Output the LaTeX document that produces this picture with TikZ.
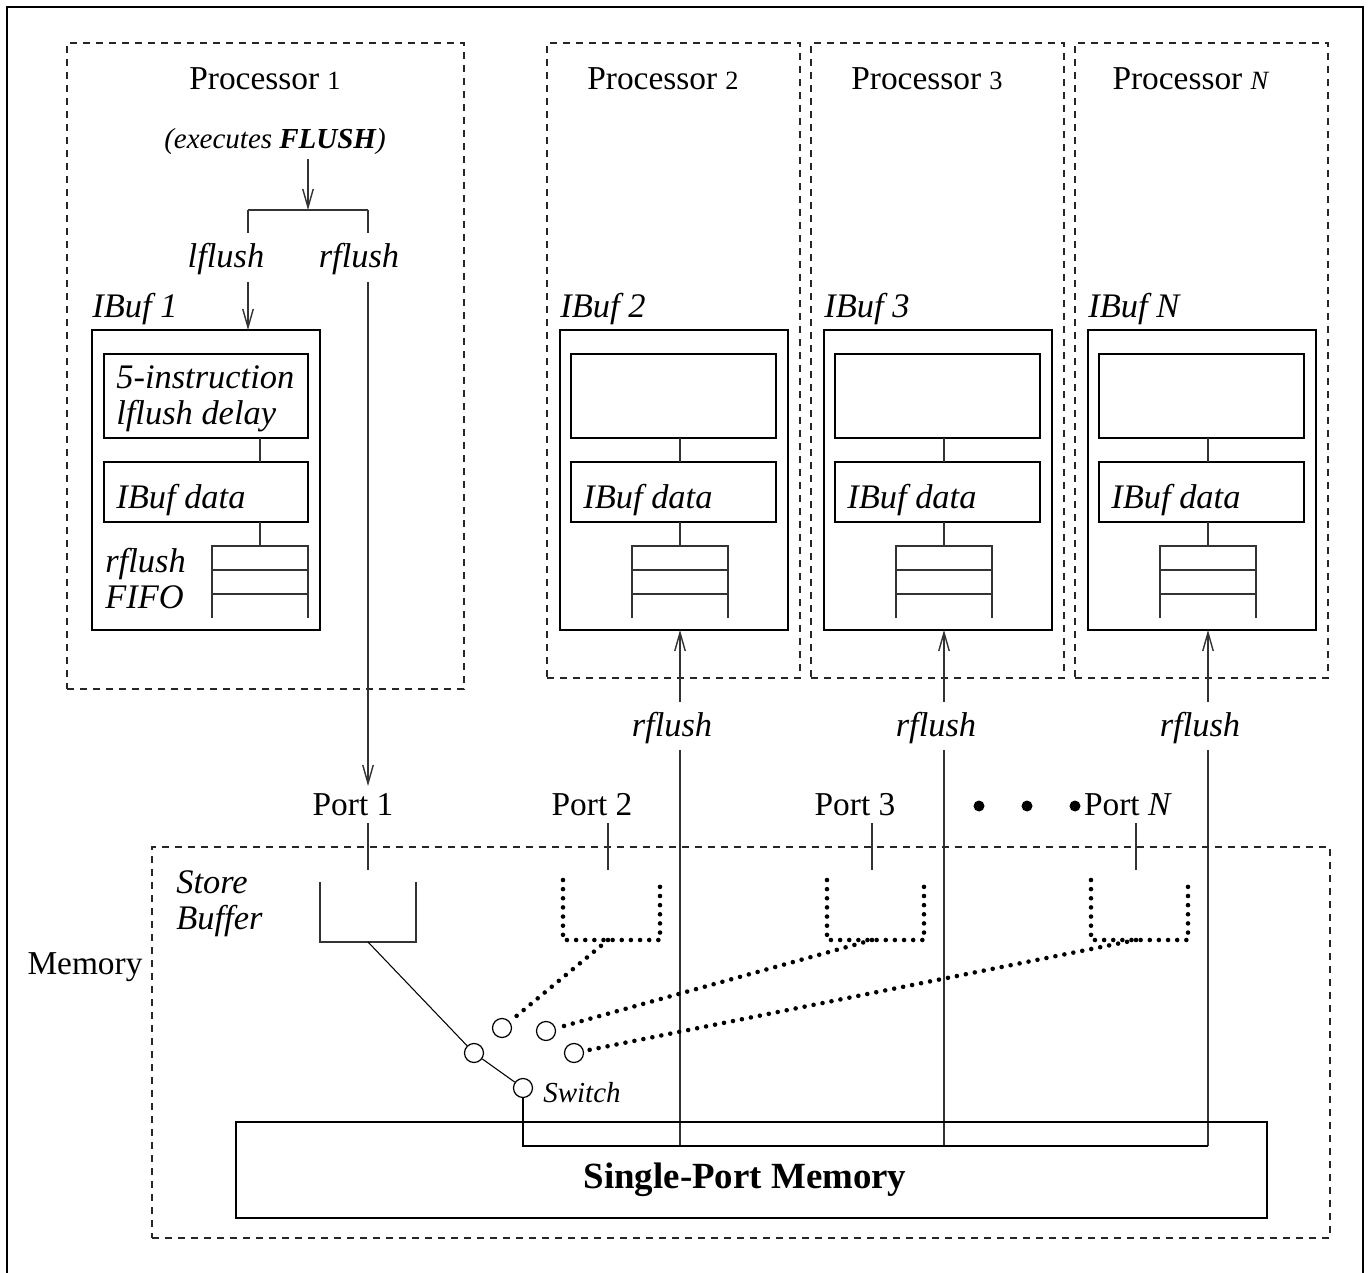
\documentclass[tikz,border=0pt]{standalone}
\usepackage{fontspec}
\setmainfont{Liberation Serif}
\usetikzlibrary{arrows.meta,fit}
\begin{document}
\begin{tikzpicture}[x=0.02cm,y=-0.02cm,
  ln/.style={line width=0.8pt, draw=black!80},
  thn/.style={line width=0.6pt, draw=black},
  dsh/.style={draw=black!85, line width=0.7pt, dash pattern=on 4pt off 3.4pt},
  dts/.style={draw=black, line width=2.6pt, dash pattern=on 0pt off 5.2pt, line cap=round},
  arr/.style={-{Straight Barb[length=10.5pt,width=6pt]}},
  bx/.style={draw=black, line width=0.7pt, inner sep=0pt, outer sep=0pt},
  fr/.style={dsh, inner sep=0pt, outer sep=0pt},
  txt/.style={inner sep=0pt, font=\fontsize{19}{20}\selectfont},
  itx/.style={inner sep=0pt, font=\fontsize{19.6}{20.5}\selectfont\itshape},
  lbl/.style={itx, minimum height=0.96cm},
  prt/.style={txt, minimum height=0.76cm},
  sw/.style={draw=black, line width=0.7pt, circle, minimum size=0.38cm, inner sep=0pt}]
\useasboundingbox (0,0) rectangle (1369,1273);
% outer frame
\draw[thn] (7,1273) -- (7,7) -- (1363,7) -- (1363,1273);

% ---------------- Processor 1 ----------------
\node[fr, fit={(67,43) (464,689)}] (p1) {};
\node[txt] (t1) at (265,79) {Processor {\fontsize{15}{18}\selectfont 1}};
\node[inner sep=2pt, font=\fontsize{16.5}{20}\selectfont\itshape] (ex) at (275,142) {(executes \textbf{FLUSH})};
\coordinate (br) at (308,210);
\coordinate (bl) at (248,210);
\coordinate (brr) at (368,210);
\draw[ln,arr] (ex.south -| br) -- (br);
\draw[ln] (bl) -- (brr);
\node[lbl] (lf) at (226,259) {lflush};
\node[lbl] (rf1) at (359,259) {rflush};
\draw[ln] (bl) -- (248,233);
\draw[ln] (brr) -- (368,233);
\node[itx, anchor=west] (ibl1) at (92,309) {IBuf 1};
\node[bx, fit={(92,330) (320,630)}] (ib1) {};
\draw[ln,arr] (248,282) -- (ib1.north -| bl);
\node[bx, fit={(104,354) (308,438)}] (d1) {};
\node[itx, anchor=west, align=left] (d1t) at (116,399) {5-instruction\\lflush delay};
\node[bx, fit={(104,462) (308,522)}] (da1) {};
\node[itx, anchor=west] (da1t) at (116,500) {IBuf data};
\coordinate (v1) at (260,0);
\draw[ln] (d1.south -| v1) -- (da1.north -| v1);
\draw[ln] (da1.south -| v1) -- (260,546);
\draw[ln] (212,618) -- (212,546) -- (308,546) -- (308,618);
\draw[ln] (212,570) -- (308,570);
\draw[ln] (212,594) -- (308,594);
\node[itx, anchor=west, align=left] (ff1) at (105,579) {rflush\\FIFO};

% ---------------- Processors 2, 3, N ----------------
\foreach \n/\d/\lab in {2/0/2, 3/264/3, N/528/\textit{N}} {
  \node[fr, fit={(547+\d,43) (800+\d,678)}] (p\n) {};
  \node[txt] (t\n) at (663+\d,79) {Processor {\fontsize{15}{18}\selectfont \lab}};
  \node[itx, anchor=west] (ibl\n) at (560+\d,309) {IBuf \n};
  \node[bx, fit={(560+\d,330) (788+\d,630)}] (ib\n) {};
  \node[bx, fit={(571+\d,354) (776+\d,438)}] (d\n) {};
  \node[bx, fit={(571+\d,462) (776+\d,522)}] (da\n) {};
  \node[itx, anchor=west] (da\n t) at (583+\d,500) {IBuf data};
  \coordinate (v\n) at (680+\d,1146);
  \draw[ln] (d\n.south -| v\n) -- (da\n.north -| v\n);
  \draw[ln] (da\n.south -| v\n) -- (680+\d,546);
  \draw[ln] (632+\d,618) -- (632+\d,546) -- (728+\d,546) -- (728+\d,618);
  \draw[ln] (632+\d,570) -- (728+\d,570);
  \draw[ln] (632+\d,594) -- (728+\d,594);
  \node[lbl] (rf\n) at (672+\d,728) {rflush};
  \draw[ln,arr] (680+\d,702) -- (ib\n.south -| v\n);
  \draw[ln] (680+\d,750) -- (v\n);
}

% ---------------- Ports ----------------
\node[prt] (port1) at (353,805) {Port 1};
\node[prt] (port2) at (592,805) {Port 2};
\node[prt] (port3) at (855,805) {Port 3};
\node[prt] (portN) at (1128,805) {Port \textit{N}};
\fill (979,806) circle (0.11cm);
\fill (1027,806) circle (0.11cm);
\fill (1075,806) circle (0.11cm);
\draw[ln,arr] (368,282) -- (368,786);

% ---------------- Memory ----------------
\node[fr, fit={(152,847) (1330,1238)}] (memb) {};
\node[txt] (mem) at (85,967) {Memory};
\node[itx, anchor=west, align=left] (sbt) at (176,904) {Store\\Buffer};

\coordinate (tk1) at (368,870);
\coordinate (tk2) at (608,870);
\coordinate (tk3) at (872,870);
\coordinate (tkN) at (1136,870);
\draw[ln] (368,823) -- (tk1);
\draw[ln] (608,823) -- (tk2);
\draw[ln] (872,823) -- (tk3);
\draw[ln] (1136,823) -- (tkN);

% store buffers
\draw[ln] (320,882) -- (320,942) -- (416,942) -- (416,882);
\coordinate (sb1) at (368,942);
\draw[dts] (563,880) -- (563,940) -- (660,940) -- (660,880);
\coordinate (sb2) at (608,940);
\draw[dts] (827,880) -- (827,940) -- (924,940) -- (924,880);
\coordinate (sb3) at (872,940);
\draw[dts] (1091,880) -- (1091,940) -- (1188,940) -- (1188,880);
\coordinate (sbN) at (1136,940);

% switch
\node[sw] (c1) at (474,1053) {};
\node[sw] (c2) at (502,1028) {};
\node[sw] (c3) at (546,1031) {};
\node[sw] (c4) at (574,1053) {};
\node[sw] (cs) at (523,1088) {};
\node[inner sep=0pt, anchor=west, font=\fontsize{16.5}{20}\selectfont\itshape] (swt) at (543,1093) {Switch};
\draw[thn] (sb1) -- (c1);
\draw[thn] (c1) -- (cs);
\draw[dts] (sb2) -- (c2);
\draw[dts] (sb3) -- (c3);
\draw[dts] (sbN) -- (c4);

% single-port memory
\node[bx, fit={(236,1122) (1267,1218)}] (spm) {};
\node[inner sep=0pt, font=\fontsize{21}{24}\selectfont\bfseries] (spmt) at (745,1180) {Single-Port Memory};
\draw[thn] (cs) -- (cs |- vN) -- (vN);
\end{tikzpicture}
\end{document}
